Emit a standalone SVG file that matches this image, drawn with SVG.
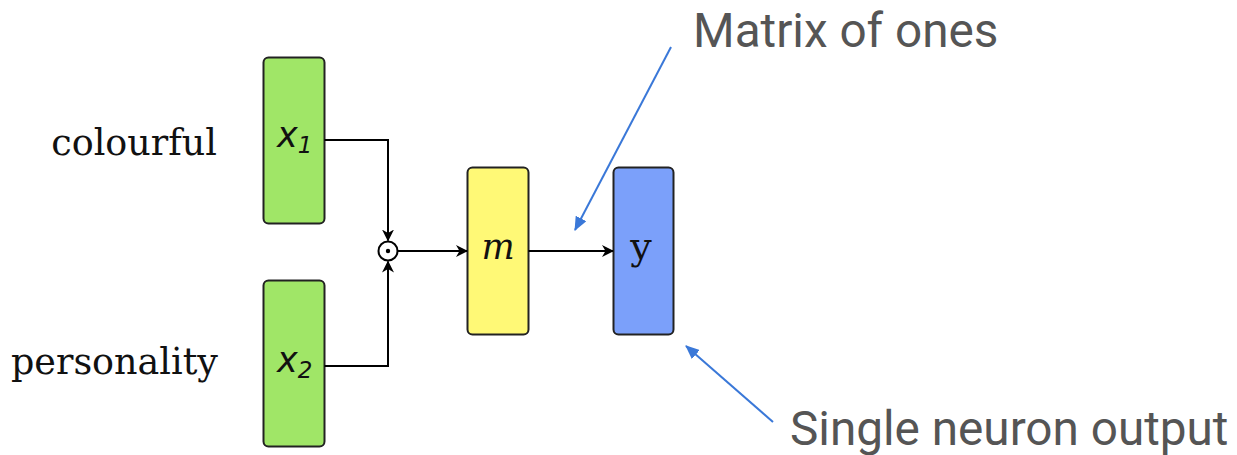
<svg xmlns="http://www.w3.org/2000/svg" width="1237" height="455" viewBox="0 0 1237 455">
<style>
.box{stroke:#222;stroke-width:2}
.in{fill:#a0e667}
.lbl{font-family:"DejaVu Serif",serif;fill:#111;font-size:36.5px}
.var{font-family:"DejaVu Sans",sans-serif;font-style:italic;fill:#111}
.conn{fill:none;stroke:#000;stroke-width:2}
.note{fill:none;stroke:#3a78d8;stroke-width:2}
.ann{font-family:Roboto,"Liberation Sans",sans-serif;fill:#555;font-size:47.7px}
</style>
<defs>
<marker id="ah" markerWidth="12" markerHeight="12" refX="11" refY="6" orient="auto" markerUnits="userSpaceOnUse">
<path d="M0,0 L12,6 L0,12 L3.5,6 Z" fill="#000"/>
</marker>
<marker id="bh" markerWidth="14" markerHeight="12" refX="13" refY="6" orient="auto" markerUnits="userSpaceOnUse">
<path d="M0,0 L14,6 L0,12 Z" fill="#3a78d8"/>
</marker>
</defs>
<g id="label-colourful"><text class="lbl" x="217" y="155" text-anchor="end">colourful</text></g>
<g id="label-personality"><text class="lbl" x="218" y="374" text-anchor="end">personality</text></g>
<g id="node-x1">
<rect class="box in" x="263.5" y="57.5" width="61" height="166" rx="5"/>
<text class="var" x="277" y="147" font-size="35">x<tspan font-size="23" dy="6">1</tspan></text>
</g>
<g id="node-x2">
<rect class="box in" x="263.5" y="280.5" width="61" height="166" rx="5"/>
<text class="var" x="277" y="372" font-size="35">x<tspan font-size="23" dy="6">2</tspan></text>
</g>
<g id="node-mul">
<circle cx="388" cy="251" r="9.5" fill="#fff" stroke="#000" stroke-width="2"/>
<circle cx="388" cy="251" r="2.2" fill="#000"/>
</g>
<g id="node-m">
<rect class="box" fill="#fff976" x="467.5" y="167.5" width="61" height="167" rx="5"/>
<text x="498" y="259" font-family="DejaVu Serif,serif" font-style="italic" font-size="35" text-anchor="middle" fill="#111">m</text>
</g>
<g id="node-y">
<rect class="box" fill="#7ba0fa" x="613.5" y="167.5" width="60" height="167" rx="5"/>
<text x="641" y="259" font-family="DejaVu Serif,serif" font-size="38" text-anchor="middle" fill="#111">y</text>
</g>
<g id="connectors">
<path class="conn" d="M324.5,140 H388 V240.5" marker-end="url(#ah)"/>
<path class="conn" d="M324.5,366 H388 V261.5" marker-end="url(#ah)"/>
<path class="conn" d="M397.5,251 H467" marker-end="url(#ah)"/>
<path class="conn" d="M528.5,251 H613" marker-end="url(#ah)"/>
<path class="note" d="M671,47 L575,230" marker-end="url(#bh)"/>
<path class="note" d="M773,422 L686,346" marker-end="url(#bh)"/>
</g>
<g id="annotations">
<text class="ann" x="693" y="47">Matrix of ones</text>
<text class="ann" x="790" y="445">Single neuron output</text>
</g>
</svg>
